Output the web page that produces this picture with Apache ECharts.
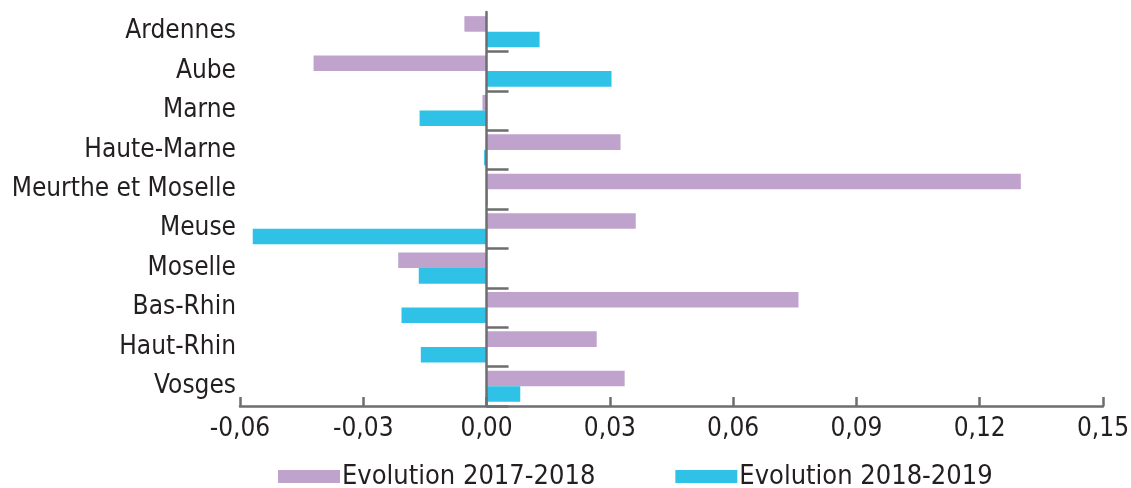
<!DOCTYPE html>
<html>
<head>
<meta charset="utf-8">
<script src="https://cdn.jsdelivr.net/npm/echarts@6/dist/echarts.min.js"></script>
<style>
  html, body { margin: 0; padding: 0; background: #ffffff; }
  #chart { width: 1131px; height: 488px; }
</style>
</head>
<body>
<div id="chart"></div>
<script>
// Départements, top to bottom
const departements = ['Ardennes', 'Aube', 'Marne', 'Haute-Marne', 'Meurthe et Moselle',
  'Meuse', 'Moselle', 'Bas-Rhin', 'Haut-Rhin', 'Vosges'];

// Evolution 2017-2018
const evol2017_2018 = [-0.0054, -0.0421, -0.0010, 0.0326, 0.1300, 0.0363, -0.0215, 0.0759, 0.0268, 0.0336];

// Evolution 2018-2019
const evol2018_2019 = [0.0129, 0.0304, -0.0163, -0.0006, 0.0003, -0.0569, -0.0165, -0.0207, -0.0160, 0.0082];

const seriesNames = ['Evolution 2017-2018', 'Evolution 2018-2019'];
const xMin = -0.06, xMax = 0.15, xStep = 0.03;

const FONT = '"DejaVu Sans Condensed", "DejaVu Sans", sans-serif';
const TEXT = '#231f20';
const AXIS = '#6d6e71';

const chart = echarts.init(document.getElementById('chart'));
chart.setOption({
  animation: false,
  textStyle: { fontFamily: FONT, color: TEXT },
  grid: { left: 240, right: 28, top: 12, bottom: 82, containLabel: false, outerBoundsMode: 'none' },
  legend: {
    left: 273, top: 458,
    itemWidth: 62, itemHeight: 13, itemGap: 80,
    icon: 'rect',
    textStyle: { fontFamily: FONT, fontSize: 27, color: TEXT, padding: [0, 0, 0, -3] },
    data: seriesNames
  },
  xAxis: {
    type: 'value', min: xMin, max: xMax, interval: xStep,
    z: 5,
    axisLine: { show: true, onZero: false, lineStyle: { color: AXIS, width: 2.5 } },
    axisTick: { show: true, inside: true, length: 9, lineStyle: { color: AXIS, width: 2.5 } },
    splitLine: { show: false },
    axisLabel: {
      fontFamily: FONT, fontSize: 26, color: TEXT, margin: 10,
      formatter: v => v.toFixed(2).replace('.', ',')
    }
  },
  yAxis: [
    {
      // zero line with the category separators
      type: 'category', inverse: true, data: departements, position: 'left',
      z: 5,
      axisLine: { show: true, onZero: true, lineStyle: { color: AXIS, width: 2.5 } },
      axisTick: { show: true, inside: true, length: 22, interval: i => i !== 0,
        lineStyle: { color: AXIS, width: 2.5 } },
      axisLabel: { show: false }
    },
    {
      // département names at the left edge
      type: 'category', inverse: true, data: departements, position: 'left',
      axisLine: { show: false, onZero: false }, axisTick: { show: false },
      axisLabel: { fontFamily: FONT, fontSize: 26, color: TEXT, margin: 4, interval: 0 }
    }
  ],
  series: [
    {
      name: seriesNames[0], type: 'bar', yAxisIndex: 0, data: evol2017_2018,
      itemStyle: { color: '#bfa3cc' },
      barGap: '0%', barCategoryGap: '21%'
    },
    {
      name: seriesNames[1], type: 'bar', yAxisIndex: 0, data: evol2018_2019,
      itemStyle: { color: '#2fc2e6' },
      barGap: '0%', barCategoryGap: '21%'
    }
  ]
});
</script>
</body>
</html>
